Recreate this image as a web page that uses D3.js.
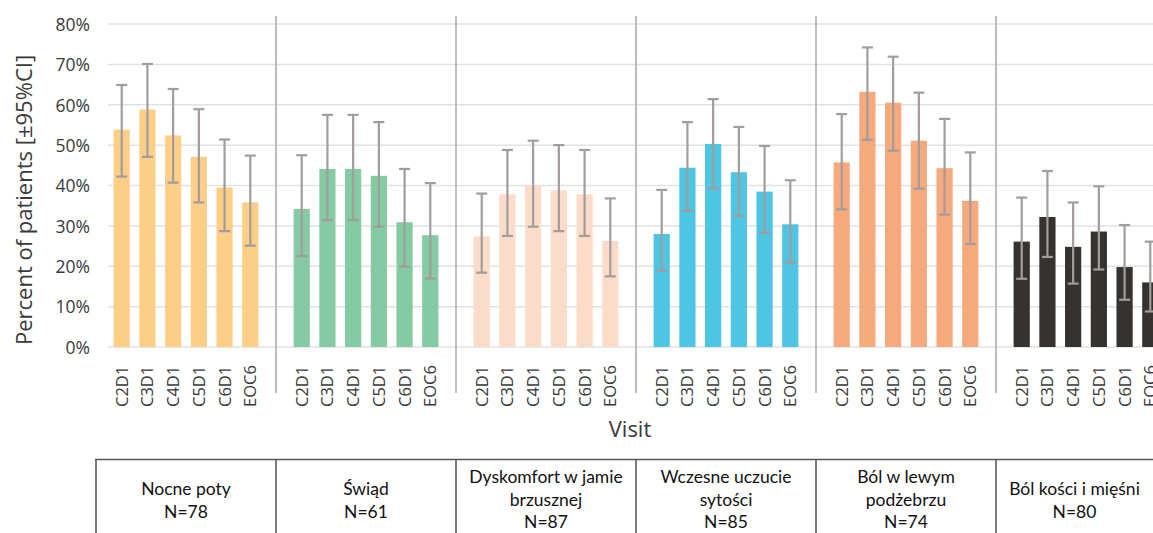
<!DOCTYPE html>
<html>
<head>
<meta charset="utf-8">
<script src="https://cdn.jsdelivr.net/npm/d3@7"></script>
<style>
  html, body { margin: 0; padding: 0; background: #ffffff; }
  svg { display: block; }
</style>
</head>
<body>
<svg id="chart" width="1153" height="533"></svg>
<script>
// Symptom groups, visit labels and per-visit percentages with 95% CI bounds
const symptoms = ["Nocne poty", "Świąd", "Dyskomfort w jamie brzusznej", "Wczesne uczucie sytości", "Ból w lewym podżebrzu", "Ból kości i mięśni"];
const symptomLines = [["Nocne poty"], ["Świąd"], ["Dyskomfort w jamie", "brzusznej"], ["Wczesne uczucie", "sytości"], ["Ból w lewym", "podżebrzu"], ["Ból kości i mięśni"]];
const sampleN = [78, 61, 87, 85, 74, 80];
const visits = ["C2D1", "C3D1", "C4D1", "C5D1", "C6D1", "EOC6"];
const yTicks = [0, 10, 20, 30, 40, 50, 60, 70, 80];

const nocnePoty      = [53.8, 58.8, 52.4, 47.1, 39.5, 35.8];
const nocnePotyLow   = [42.2, 47.1, 40.7, 35.8, 28.7, 25.1];
const nocnePotyHigh  = [64.9, 70.1, 63.9, 58.9, 51.4, 47.4];

const swiad          = [34.2, 44.1, 44.1, 42.4, 30.9, 27.7];
const swiadLow       = [22.5, 31.4, 31.4, 29.8, 19.9, 17.0];
const swiadHigh      = [47.5, 57.5, 57.5, 55.7, 44.1, 40.6];

const dyskomfort     = [27.4, 37.8, 40.0, 38.8, 37.8, 26.3];
const dyskomfortLow  = [18.4, 27.5, 29.8, 28.7, 27.5, 17.5];
const dyskomfortHigh = [38.0, 48.8, 51.1, 50.0, 48.8, 36.8];

const sytosc         = [28.0, 44.4, 50.3, 43.3, 38.5, 30.4];
const sytoscLow      = [18.9, 33.7, 39.3, 32.5, 28.3, 20.9];
const sytoscHigh     = [38.9, 55.7, 61.4, 54.5, 49.8, 41.3];

const podzebrze      = [45.7, 63.2, 60.5, 51.1, 44.3, 36.2];
const podzebrzeLow   = [34.1, 51.3, 48.6, 39.2, 32.8, 25.5];
const podzebrzeHigh  = [57.7, 74.2, 71.9, 63.0, 56.5, 48.2];

const kosci          = [26.1, 32.2, 24.8, 28.6, 19.8, 16.0];
const kosciLow       = [16.9, 22.3, 15.7, 19.2, 11.7, 8.8];
const kosciHigh      = [37.0, 43.6, 35.8, 39.8, 30.2, 26.1];

const barColors = ["#fdcf86", "#84caa2", "#fadcc9", "#4ec5e3", "#f6a97c", "#353230"];

const values = [nocnePoty, swiad, dyskomfort, sytosc, podzebrze, kosci];
const lows   = [nocnePotyLow, swiadLow, dyskomfortLow, sytoscLow, podzebrzeLow, kosciLow];
const highs  = [nocnePotyHigh, swiadHigh, dyskomfortHigh, sytoscHigh, podzebrzeHigh, kosciHigh];

const rows = [];
symptoms.forEach((s, gi) => {
  visits.forEach((v, vi) => {
    rows.push({ symptom: s, visit: v, value: values[gi][vi], low: lows[gi][vi], high: highs[gi][vi], color: barColors[gi] });
  });
});

const W = 1153, H = 533;
const svg = d3.select("#chart");
const font = "'Open Sans', 'Noto Sans', sans-serif";
const textColor = "#3a3a3a";

const y = d3.scaleLinear().domain([0, 80]).range([347, 24]);
const xGroup = d3.scaleBand().domain(symptoms).range([96, 1176]);
const xVisit = d3.scalePoint().domain(visits).range([0, xGroup.bandwidth()]).padding(1);
const barW = xVisit.step() * 0.63;
const cx = d => xGroup(d.symptom) + xVisit(d.visit);

// Horizontal gridlines
svg.append("g")
  .selectAll("line")
  .data(yTicks)
  .join("line")
  .attr("x1", 108).attr("x2", W)
  .attr("y1", d => y(d)).attr("y2", d => y(d))
  .attr("stroke", "#e2e2e2")
  .attr("stroke-width", 1.5);

// Y axis labels
const yAxis = svg.append("g")
  .attr("transform", "translate(90,0)")
  .call(d3.axisLeft(y).tickValues(yTicks).tickFormat(d => d + "%").tickSize(0).tickPadding(0));
yAxis.select(".domain").remove();
yAxis.selectAll("text")
  .attr("font-family", font)
  .attr("font-size", 17.5)
  .attr("fill", textColor)
  .attr("dy", "0.36em");

// Group separators
svg.append("g")
  .selectAll("line")
  .data(symptoms.slice(1))
  .join("line")
  .attr("x1", d => xGroup(d)).attr("x2", d => xGroup(d))
  .attr("y1", 16).attr("y2", 393)
  .attr("stroke", "#a8a8a8")
  .attr("stroke-width", 1.5);

// Bars
svg.append("g")
  .selectAll("rect")
  .data(rows)
  .join("rect")
  .attr("x", d => cx(d) - barW / 2)
  .attr("width", barW)
  .attr("y", d => y(d.value))
  .attr("height", d => y(0) - y(d.value))
  .attr("fill", d => d.color);

// 95% CI error bars
const err = svg.append("g")
  .attr("stroke", "#a39c9c")
  .attr("stroke-width", 2.2)
  .attr("fill", "none");
const capW = 11;
err.selectAll("line.stem")
  .data(rows).join("line").attr("class", "stem")
  .attr("x1", cx).attr("x2", cx)
  .attr("y1", d => y(d.low)).attr("y2", d => y(d.high));
err.selectAll("line.capTop")
  .data(rows).join("line").attr("class", "capTop")
  .attr("x1", d => cx(d) - capW / 2).attr("x2", d => cx(d) + capW / 2)
  .attr("y1", d => y(d.high)).attr("y2", d => y(d.high));
err.selectAll("line.capBottom")
  .data(rows).join("line").attr("class", "capBottom")
  .attr("x1", d => cx(d) - capW / 2).attr("x2", d => cx(d) + capW / 2)
  .attr("y1", d => y(d.low)).attr("y2", d => y(d.low));

// Rotated visit labels
svg.append("g")
  .selectAll("text")
  .data(rows)
  .join("text")
  .attr("transform", d => `translate(${cx(d)},407) rotate(-90)`)
  .attr("dy", "0.36em")
  .attr("text-anchor", "start")
  .attr("font-family", font)
  .attr("font-size", 16.5)
  .attr("fill", textColor)
  .text(d => d.visit);

// Axis titles
svg.append("text")
  .attr("transform", "translate(32,200) rotate(-90)")
  .attr("text-anchor", "middle")
  .attr("font-family", font)
  .attr("font-size", 22)
  .attr("fill", textColor)
  .text("Percent of patients [±95%CI]");

svg.append("text")
  .attr("x", 630).attr("y", 437)
  .attr("text-anchor", "middle")
  .attr("font-family", font)
  .attr("font-size", 22)
  .attr("fill", textColor)
  .text("Visit");

// Symptom table below the chart
const table = svg.append("g");
const tableTop = 459.5;
const colEdges = symptoms.map(s => xGroup(s)).concat([W]);
table.append("line")
  .attr("x1", 95).attr("x2", W)
  .attr("y1", tableTop).attr("y2", tableTop)
  .attr("stroke", "#5a5a5a").attr("stroke-width", 1.6);
table.selectAll("line.col")
  .data(colEdges.slice(0, -1))
  .join("line").attr("class", "col")
  .attr("x1", d => d).attr("x2", d => d)
  .attr("y1", tableTop).attr("y2", H)
  .attr("stroke", "#5a5a5a").attr("stroke-width", 1.6);

symptoms.forEach((s, i) => {
  const lines = symptomLines[i].concat(["N=" + sampleN[i]]);
  const centerX = (colEdges[i] + colEdges[i + 1]) / 2;
  const lh = 22.5;
  const base = lines.length === 3 ? 483 : 495;
  table.append("text")
    .attr("x", centerX)
    .attr("text-anchor", "middle")
    .attr("font-family", "Lato, 'Open Sans', sans-serif")
    .attr("font-size", 17.5)
    .attr("fill", "#111111")
    .selectAll("tspan")
    .data(lines)
    .join("tspan")
    .attr("x", centerX)
    .attr("y", (d, j) => base + j * lh)
    .text(d => d);
});
</script>
</body>
</html>
